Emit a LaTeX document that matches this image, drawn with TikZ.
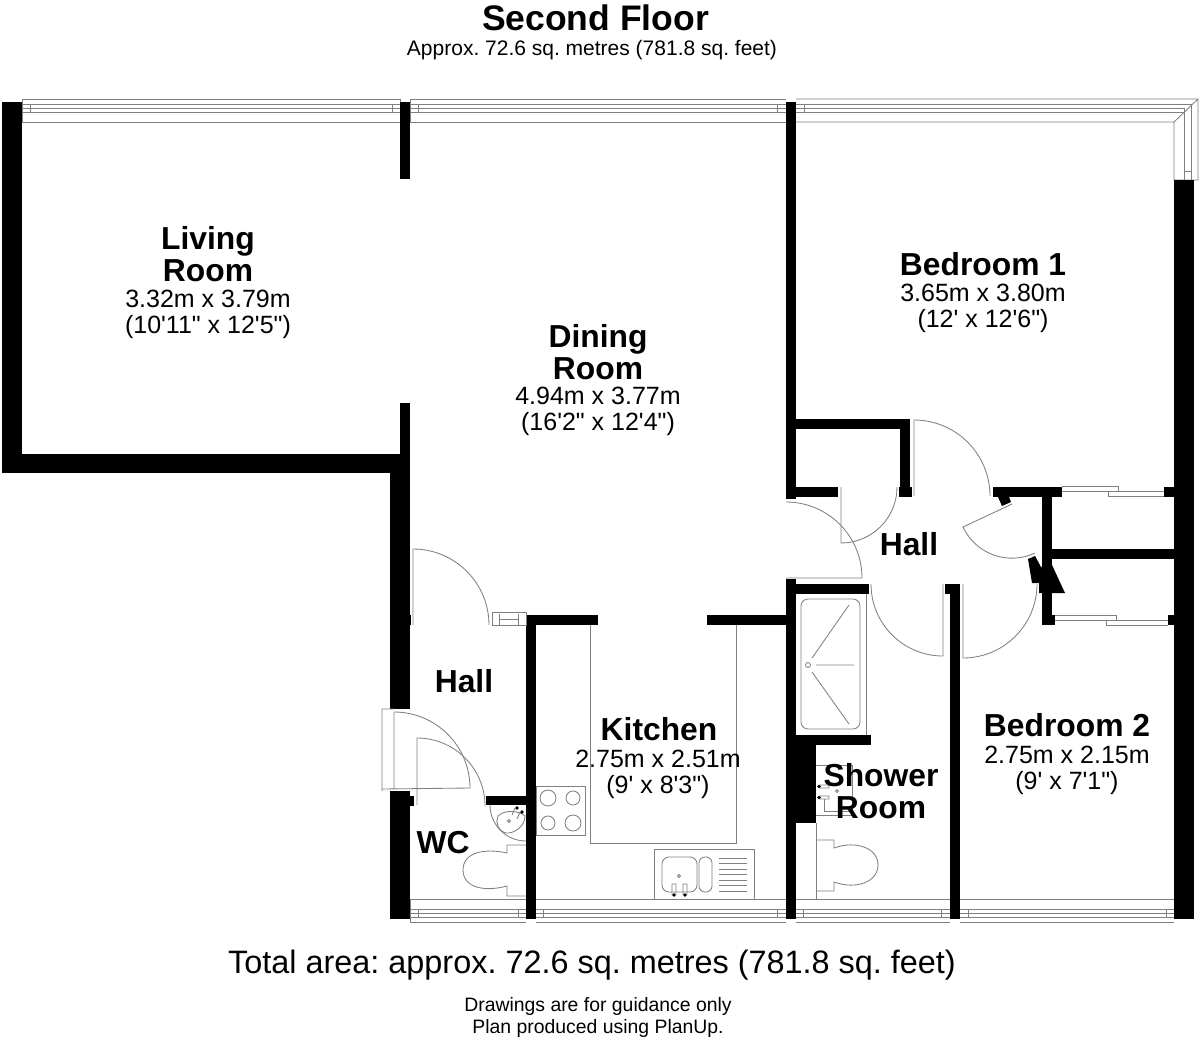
\documentclass[tikz,border=0pt]{standalone}
\usepackage{fontspec}
\setmainfont{Liberation Sans}[Ligatures=TeXOff]
\usepackage{tikz}
\usetikzlibrary{positioning}
\frenchspacing

\begin{document}
\begin{tikzpicture}[x=1pt, y=-1pt,
    wall/.style={fill=black, draw=none},
    fitting/.style={draw=black!50, line width=0.85pt, line join=miter},
    roomname/.style={font=\fontsize{31.8}{32}\selectfont\bfseries, align=center},
    roomsize/.style={font=\fontsize{25}{26}\selectfont, align=center}]
    \useasboundingbox (0,0) rectangle (1200,1042);

    % top windows
    \draw[fitting] (22,122)--(400,122) (22,99)--(400,99) (22,99)--(22,122) (400,99)--(400,122);
    \draw[fitting] (22,104)--(400,104) (22,108)--(400,108) (22,112)--(400,112) (30,104)--(30,112) (392,104)--(392,112);
    \draw[fitting] (410,122)--(786,122) (410,99)--(786,99) (410,99)--(410,122);
    \draw[fitting] (410,104)--(786,104) (410,108)--(786,108) (410,112)--(786,112) (418,104)--(418,112) (777,104)--(777,112);
    \draw[fitting] (796,99)--(1198,99)--(1198,180) (796,122)--(1174,122)--(1174,180)--(1198,180) (1198,99)--(1174,122);
    \draw[fitting] (796,104)--(1191,104)--(1191,180) (796,108)--(1184,108)--(1184,180) (796,112)--(1184,112) (1184,171)--(1191,171) (804,104)--(804,112);

    % bottom windows
    \draw[fitting] (410,899)--(526,899) (410,922)--(526,922) (410,899)--(410,922) (410,909)--(526,909) (410,913)--(526,913) (410,917)--(526,917) (418,909)--(418,917) (518,909)--(518,917);
    \draw[fitting] (536,899)--(786,899) (536,922)--(786,922) (536,909)--(786,909) (536,913)--(786,913) (536,917)--(786,917) (543,909)--(543,917) (777,909)--(777,917);
    \draw[fitting] (796,899)--(950,899) (796,922)--(950,922) (796,909)--(950,909) (796,913)--(950,913) (796,917)--(950,917) (803,909)--(803,917) (941,909)--(941,917);
    \draw[fitting] (960,899)--(1174,899) (960,922)--(1174,922) (960,909)--(1174,909) (960,913)--(1174,913) (960,917)--(1174,917) (968,909)--(968,917) (1166,909)--(1166,917);

    % right hand sliding doors
    \draw[fitting] (1062,486)--(1118,486)--(1118,491)--(1164,491) (1062,491)--(1118,491) (1108,491)--(1108,496)--(1164,496);
    \draw[fitting] (1055,615)--(1116,615)--(1116,620)--(1168,620) (1055,620)--(1116,620) (1106,620)--(1106,625)--(1168,625);

    % walls
    \fill[wall] (2,102) rectangle (22,473);
    \fill[wall] (2,454) rectangle (410,473);
    \fill[wall] (400,102) rectangle (410,179);
    \fill[wall] (400,403) rectangle (410,473);
    \fill[wall] (390,454) rectangle (410,709);
    \fill[wall] (390,615) rectangle (411,625);
    \fill[wall] (390,791) rectangle (410,919);
    \fill[wall] (409,796) rectangle (414,806);
    \fill[wall] (786,102) rectangle (796,499);
    \fill[wall] (786,419) rectangle (910,429);
    \fill[wall] (900,419) rectangle (910,497);
    \fill[wall] (899,487) rectangle (912,497);
    \fill[wall] (786,487) rectangle (838,497);
    \fill[wall] (993,487) rectangle (1062,497);
    \fill[wall] (998,497)--(1002,506)--(1011,502)--(1009,497)--cycle;
    \fill[wall] (1042,497) rectangle (1052,625);
    \fill[wall] (1042,615) rectangle (1055,625);
    \fill[wall] (1052,549) rectangle (1174,559);
    \fill[wall] (1164,487) rectangle (1174,497);
    \fill[wall] (1168,615) rectangle (1174,625);
    \fill[wall] (1174,180) rectangle (1194,919);
    \fill[wall] (1028,559)--(1035,556)--(1041,567)--(1052,565)--(1065,593)--(1039,593)--(1039,583)--(1032,583)--cycle;
    \fill[wall] (786,579) rectangle (796,919);
    \fill[wall] (786,584) rectangle (869,594);
    \fill[wall] (707,615) rectangle (786,625);
    \fill[wall] (950,584) rectangle (960,919);
    \fill[wall] (945,584) rectangle (960,594);
    \fill[wall] (526,615) rectangle (536,919);
    \fill[wall] (526,615) rectangle (598,625);
    \fill[wall] (786,735) rectangle (871,745);
    \fill[wall] (796,745) rectangle (816,823);
    \fill[wall] (486,796) rectangle (526,805);

    % doors
    \draw[fitting] (413,625)--(413,549) arc[start angle=270, end angle=360, radius=76];
    \draw[fitting] (492,612) rectangle (526,625) (499,614)--(499,625) (518,614)--(518,625) (499,619)--(518,619);
    \draw[fitting] (382,791)--(382,709)--(394,709) (394,712)--(394,788) (382,789)--(470,788);
    \draw[fitting] (394,712) arc[start angle=270, end angle=360, radius=76];
    \draw[fitting] (417,805)--(417,738) arc[start angle=270, end angle=360, radius=68];
    \draw[fitting] (786,578)--(862,578) arc[start angle=0, end angle=-90, radius=76];
    \draw[fitting] (841,487)--(841,543) arc[start angle=90, end angle=0, radius=56];
    \draw[fitting] (914,496)--(914,420) arc[start angle=270, end angle=360, radius=76];
    \draw[fitting] (943,584)--(943,656) arc[start angle=90, end angle=180, radius=72];
    \draw[fitting] (963,584)--(963,658) arc[start angle=90, end angle=0, radius=74];
    \draw[fitting] (1012,504)--(963,527) arc[start angle=155, end angle=65, radius=54];

    % kitchen
    \draw[fitting] (590,625)--(590,843)--(736,843)--(736,625);
    \draw[fitting] (536,786) rectangle (585,835);
    \draw[fitting] (548,798) circle[radius=8] (573,798) circle[radius=7] (548,823) circle[radius=7] (573,823) circle[radius=8];
    \draw[fitting] (654,899)--(654,849)--(754,849)--(754,899);
    \draw[fitting, rounded corners=7pt] (662,857) rectangle (697,892);
    \draw[fitting, rounded corners=6pt] (699,857) rectangle (712,892);
    \draw[fitting] (719,858)--(747,858) (719,863.5)--(747,863.5) (719,869)--(747,869) (719,874.5)--(747,874.5) (719,880)--(747,880) (719,885.5)--(747,885.5) (719,891)--(747,891);
    \draw[fitting] (672,895)--(672,884)--(676,884)--(676,895) (683,895)--(683,884)--(687,884)--(687,895) (679,876) circle[radius=1.5];
    \fill (674,895) circle[radius=1.8] (685,895) circle[radius=1.8];

    % shower
    \draw[fitting] (866,594)--(866,735);
    \draw[fitting, rounded corners=7pt] (801,599) rectangle (860,729);
    \draw[fitting] (808,665) circle[radius=2.5] (812,658)--(849,605) (816,665)--(854,665) (812,672)--(849,724);
    \draw[fitting] (816,765)--(852,765)--(852,815)--(816,815) (824,799)--(824,811)--(852,811);
    \draw[fitting] (820,785) rectangle (829,788) (820,796) rectangle (829,799) (837,791) circle[radius=1.5];
    \fill (819,786.5) circle[radius=1.8] (819,797.5) circle[radius=1.8];
    \draw[fitting] (816,823)--(816,899);
    \draw[fitting] (816,840)--(834,840)--(834,848) .. controls (856,840) and (878,848) .. (878,865) .. controls (878,882) and (856,890) .. (834,882)--(834,891)--(816,891);

    % WC
    \draw[fitting] (490,805) arc[start angle=180, end angle=90, radius=36];
    \draw[fitting] (526,845)--(507,845)--(507,853) .. controls (485,848) and (463,852) .. (463,870) .. controls (463,888) and (485,892) .. (507,886)--(507,896)--(526,896);
    \draw[fitting] (498,816) .. controls (505,809) and (520,811) .. (525,816) .. controls (525,827) and (513,834) .. (506,833) .. controls (498,831) and (495,822) .. (498,816);
    \draw[fitting] (512,815)--(515,808) (517,819)--(520,812) (509,821) circle[radius=1.5];
    \fill (517,808) circle[radius=1.8] (522,812) circle[radius=1.8];

    % text
    \node[font=\fontsize{35.5}{36}\selectfont\bfseries] (title) at (595.5,18) {Second Floor};
    \node[font=\fontsize{21}{22}\selectfont] (subtitle) at (592,50) {Approx. 72.6 sq. metres (781.8 sq. feet)};

    \node[roomname] (livingname) at (208,254) {Living\\Room};
    \node[roomsize] (livingsize) at (208,314) {3.32m x 3.79m\\(10'11" x 12'5")};
    \node[roomname] (diningname) at (598,352) {Dining\\Room};
    \node[roomsize] (diningsize) at (598,411) {4.94m x 3.77m\\(16'2" x 12'4")};
    \node[roomname] (bedonename) at (983,264) {Bedroom 1};
    \node[roomsize] (bedonesize) at (983,308) {3.65m x 3.80m\\(12' x 12'6")};
    \node[roomname] (hallupper) at (909,544) {Hall};
    \node[roomname] (halllower) at (464,681) {Hall};
    \node[roomname] (wcname) at (443,843) {WC};
    \node[roomname] (kitchenname) at (659,729) {Kitchen};
    \node[roomsize] (kitchensize) at (658,774) {2.75m x 2.51m\\(9' x 8'3")};
    \node[roomname] (showername) at (881,791) {Shower\\Room};
    \node[roomname] (bedtwoname) at (1067,725) {Bedroom 2};
    \node[roomsize] (bedtwosize) at (1067,770) {2.75m x 2.15m\\(9' x 7'1")};

    \node[font=\fontsize{32.4}{34}\selectfont] (total) at (592,965) {Total area: approx. 72.6 sq. metres (781.8 sq. feet)};
    \node[font=\fontsize{19.4}{22}\selectfont, align=center] (note) at (598,1017) {Drawings are for guidance only\\Plan produced using PlanUp.};
\end{tikzpicture}
\end{document}
